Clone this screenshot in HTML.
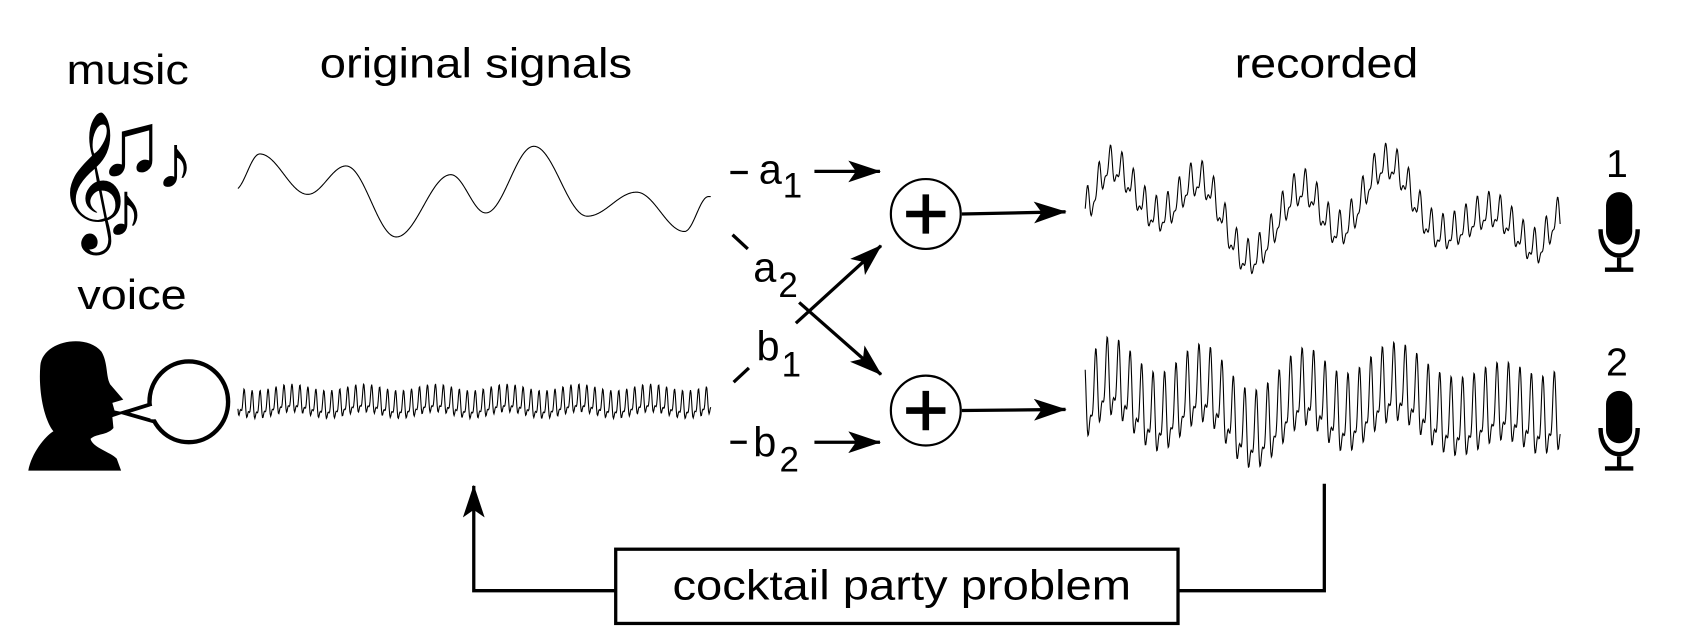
<!DOCTYPE html>
<html><head><meta charset="utf-8"><style>
html,body{margin:0;padding:0;background:#fff;}
svg{display:block;}
text{font-family:"Liberation Sans",sans-serif;fill:#000;}
</style></head><body>
<svg id="s" width="1690" height="630" viewBox="0 0 1546 577" xmlns="http://www.w3.org/2000/svg">
<defs>
<marker id="ah" viewBox="0 0 30 20" refX="29" refY="10" markerWidth="30" markerHeight="20" markerUnits="userSpaceOnUse" orient="auto">
<path d="M0,0 L30,10 L0,20 L7,10 Z" fill="#000"/>
</marker>
</defs>
<rect width="1546" height="577" fill="#fff"/>
<text x="60" y="77" font-size="38" textLength="112" lengthAdjust="spacingAndGlyphs">music</text>
<text x="292" y="71" font-size="38" textLength="286" lengthAdjust="spacingAndGlyphs">original signals</text>
<text x="1130" y="71" font-size="38" textLength="168" lengthAdjust="spacingAndGlyphs">recorded</text>
<text x="70" y="283" font-size="38" textLength="100" lengthAdjust="spacingAndGlyphs">voice</text>

<!-- music icon -->
<text x="50" y="202" font-family="DejaVu Sans" font-size="110">&#x1D11E;</text>
<text x="88" y="160" font-family="DejaVu Sans" font-size="82">&#x266B;</text>
<text x="96" y="216" font-family="DejaVu Sans" font-size="72">&#x266A;</text>
<text x="142" y="172" font-family="DejaVu Sans" font-size="70">&#x266A;</text>

<!-- head -->
<path d="M36,335 C38,312 78,305 92,322 C98,332 96,345 100,352 L112,366 L102,369 L104,376 L114,378 L102,382 L103,392 C97,399 87,397 82,402 C84,410 100,414 106,420 L110,431 L25,431 C28,415 40,400 48,395 C40,385 34,360 36,335 Z" fill="#000"/>
<ellipse cx="172" cy="368" rx="36" ry="37" fill="#fff" stroke="#000" stroke-width="4"/>
<path d="M138,370 L112,378 L140,386" fill="#fff" stroke="#000" stroke-width="3.5" stroke-linejoin="miter"/>
<rect x="137" y="372" width="6" height="12" fill="#fff"/>

<path id="w1" fill="none" stroke="#000" stroke-width="1"/>
<path id="w2" fill="none" stroke="#000" stroke-width="1"/>
<path id="w3" fill="none" stroke="#000" stroke-width="1"/>
<path id="w4" fill="none" stroke="#000" stroke-width="1"/>

<!-- coefficient labels -->
<g stroke="#000" stroke-width="3" fill="none">
<line x1="668" y1="158" x2="684" y2="158"/>
<line x1="670" y1="215" x2="684" y2="228"/>
<line x1="671" y1="350" x2="685" y2="337"/>
<line x1="668" y1="405" x2="683" y2="405"/>
<line x1="745" y1="157" x2="805" y2="157" marker-end="url(#ah)"/>
<line x1="745" y1="405" x2="805" y2="405" marker-end="url(#ah)"/>
<line x1="728" y1="296" x2="806" y2="225" marker-end="url(#ah)"/>
<line x1="731" y1="277" x2="806" y2="343" marker-end="url(#ah)"/>
<line x1="880" y1="196" x2="975" y2="194" marker-end="url(#ah)"/>
<line x1="880" y1="376" x2="975" y2="375" marker-end="url(#ah)"/>
</g>
<text x="694" y="168" font-size="38">a</text><text x="716" y="181" font-size="32">1</text>
<text x="689" y="258" font-size="38">a</text><text x="712" y="272" font-size="32">2</text>
<text x="692" y="330" font-size="38">b</text><text x="715" y="345" font-size="32">1</text>
<text x="689" y="418" font-size="38">b</text><text x="713" y="432" font-size="32">2</text>

<!-- adders -->
<g stroke="#000" fill="#fff" stroke-width="2">
<circle cx="847" cy="196" r="32"/>
<circle cx="847" cy="376" r="32"/>
</g>
<g stroke="#000" stroke-width="6">
<line x1="829" y1="196" x2="865" y2="196"/><line x1="847" y1="178" x2="847" y2="214"/>
<line x1="829" y1="376" x2="865" y2="376"/><line x1="847" y1="358" x2="847" y2="394"/>
</g>

<!-- mics -->
<text x="1470" y="162" font-size="36">1</text>
<text x="1470" y="344" font-size="36">2</text>
<g id="mic">
<rect x="1470" y="176" width="24" height="48" rx="12" fill="#000"/>
<path d="M1465,210 C1465,242 1499,242 1499,210" fill="none" stroke="#000" stroke-width="4"/>
<line x1="1482" y1="236" x2="1482" y2="247" stroke="#000" stroke-width="4"/>
<line x1="1469" y1="247" x2="1495" y2="247" stroke="#000" stroke-width="4"/>
</g>
<use href="#mic" y="182"/>

<!-- cocktail party -->
<rect x="563" y="503" width="515" height="68" fill="#fff" stroke="#000" stroke-width="3"/>
<text x="615" y="549" font-size="38" textLength="420" lengthAdjust="spacingAndGlyphs">cocktail party problem</text>
<polyline points="1212,443 1212,541 1078,541" fill="none" stroke="#000" stroke-width="3"/>
<polyline points="563,541 433,541 433,445" fill="none" stroke="#000" stroke-width="3" marker-end="url(#ah)"/>
</svg>
<script>
var K=[[214,174],[237,141],[281,178],[316,152],[362,217],[412,160],[444,195],[488,134],[537,198],[582,176],[626,212],[648,180]];
function m(x){
 if(x<=K[0][0])return K[0][1]-178;
 for(var i=0;i<K.length-1;i++){var a=K[i],b=K[i+1];
  if(x<=b[0]){var f=(x-a[0])/(b[0]-a[0]);return a[1]+(b[1]-a[1])*(1-Math.cos(Math.PI*f))/2-178;}}
 return K[K.length-1][1]-178;}
function v(t,p){return Math.sin(2*Math.PI*t/p)*0.7+0.35*Math.sin(2*Math.PI*t/(p*0.5)+1)+0.2*Math.sin(2*Math.PI*t/(p*9)) ;}
function mk(id,x0,x1,fn){var d="";for(var x=x0;x<=x1;x+=0.5){d+=(x==x0?"M":"L")+x.toFixed(1)+","+fn(x).toFixed(2);}document.getElementById(id).setAttribute("d",d);}
mk("w1",217,650,function(x){return 178+m(x);});
mk("w2",217,650,function(x){return 370+15*v(x-217,7.3);});
function mm(x){return m(214+(x-993)*(434/435));}
mk("w3",993,1428,function(x){return 195+1.05*mm(x)+19*v(x,10.5);});
mk("w4",993,1428,function(x){return 376+0.45*mm(x)+42*v(x+3,10.5);});
</script>
</body></html>
